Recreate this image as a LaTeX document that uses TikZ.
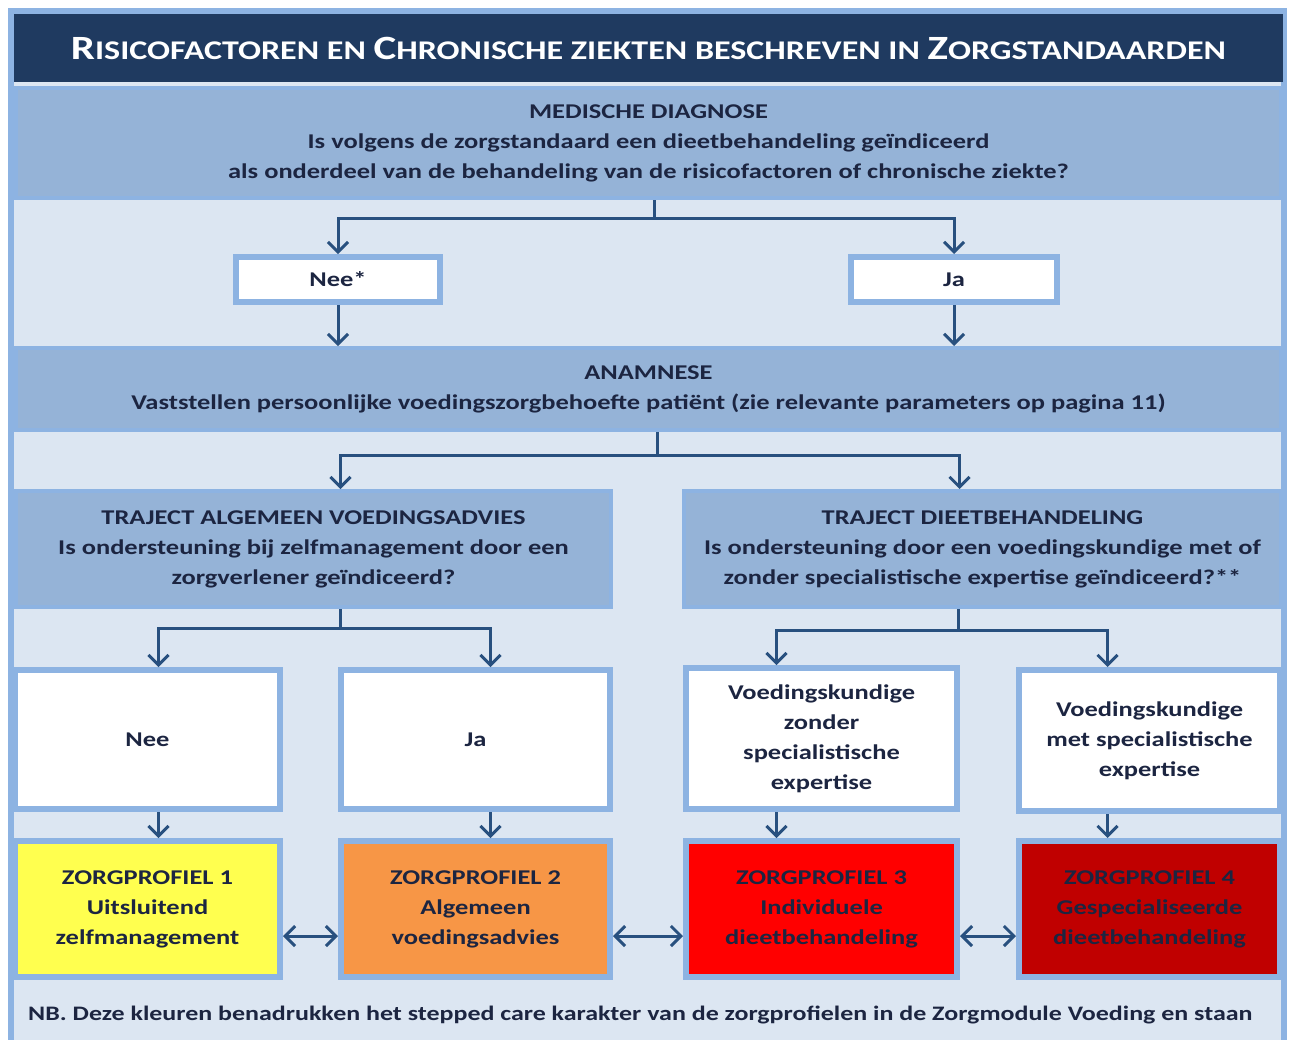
\documentclass[tikz,border=0pt]{standalone}
\usepackage{fontspec}
\setmainfont{Carlito}[FakeStretch=1.26]
\usetikzlibrary{arrows.meta}
\definecolor{navy}{HTML}{1F3A60}
\definecolor{bandblue}{HTML}{95B3D7}
\definecolor{lightbg}{HTML}{DCE6F2}
\definecolor{borderblue}{HTML}{8DB3E2}
\definecolor{arrowblue}{HTML}{28507F}
\definecolor{txt}{HTML}{1C2541}
\definecolor{pyellow}{HTML}{FFFF4F}
\definecolor{porange}{HTML}{F79646}
\definecolor{pred}{HTML}{FF0000}
\definecolor{pdarkred}{HTML}{C00000}
\newcommand\tbig[1]{{\fontsize{34}{40}\selectfont #1}}
\newcommand\bodyfont{\fontsize{21}{30}\selectfont\bfseries}
\begin{document}
\begin{tikzpicture}[x=1pt,y=-1pt,
  band/.style={fill=bandblue, draw=borderblue, line width=4pt, text=txt, align=center, font=\bodyfont, inner sep=0pt},
  wbox/.style={fill=white, draw=borderblue, line width=6pt, text=txt, align=center, font=\bodyfont, inner sep=0pt},
  pbox/.style={draw=borderblue, line width=6pt, text=txt, align=center, font=\bodyfont, inner sep=0pt},
  arr/.style={draw=arrowblue, line width=3pt, -{Straight Barb[length=10pt,width=20pt]}},
  darr/.style={draw=arrowblue, line width=3pt, {Straight Barb[length=10pt,width=20pt]}-{Straight Barb[length=10pt,width=20pt]}}
]
\clip (0,0) rectangle (1289,1039);
\fill[white] (0,0) rectangle (1289,1039);
\path[draw=borderblue, line width=6pt, fill=lightbg] (11,11) rectangle (1284,1070);

% title
\node[fill=navy, text=white, minimum width=1269pt, minimum height=68pt, inner sep=0pt, font=\fontsize{27}{32}\selectfont\bfseries] (title) at (648.5,48)
  {\tbig{R}ISICOFACTOREN EN \tbig{C}HRONISCHE ZIEKTEN BESCHREVEN IN \tbig{Z}ORGSTANDAARDEN};

% medische diagnose
\node[band, minimum width=1265pt, minimum height=110pt] (diag) at (648.5,143)
  {MEDISCHE DIAGNOSE\\Is volgens de zorgstandaard een dieetbehandeling geïndiceerd\\als onderdeel van de behandeling van de risicofactoren of chronische ziekte?};

\node[wbox, minimum width=204pt, minimum height=45pt] (nee0) at (338,279.5) {Nee*};
\node[wbox, minimum width=206pt, minimum height=45pt] (ja0) at (954,279.5) {Ja};

% anamnese
\node[band, minimum width=1265pt, minimum height=82pt] (anam) at (648.5,389)
  {ANAMNESE\\Vaststellen persoonlijke voedingszorgbehoefte patiënt (zie relevante parameters op pagina 11)};

% trajecten
\node[band, minimum width=595pt, minimum height=116pt] (tav) at (313.5,549)
  {TRAJECT ALGEMEEN VOEDINGSADVIES\\Is ondersteuning bij zelfmanagement door een\\zorgverlener geïndiceerd?};
\node[band, minimum width=597pt, minimum height=116pt] (tdb) at (982.5,549)
  {TRAJECT DIEETBEHANDELING\\Is ondersteuning door een voedingskundige met of\\zonder specialistische expertise geïndiceerd?**};

% level boxes
\node[wbox, minimum width=265pt, minimum height=139pt] (l1) at (147.5,739.5) {Nee};
\node[wbox, minimum width=269pt, minimum height=139pt] (l2) at (475.5,739.5) {Ja};
\node[wbox, minimum width=271pt, minimum height=141pt] (l3) at (821.5,738.5) {Voedingskundige\\zonder\\specialistische\\expertise};
\node[wbox, minimum width=261pt, minimum height=141pt] (l4) at (1149.5,740.5) {Voedingskundige\\met specialistische\\expertise};

% profiles
\node[pbox, fill=pyellow, minimum width=265pt, minimum height=136pt] (p1) at (147.5,909) {ZORGPROFIEL 1\\Uitsluitend\\zelfmanagement};
\node[pbox, fill=porange, minimum width=269pt, minimum height=136pt] (p2) at (475.5,909) {ZORGPROFIEL 2\\Algemeen\\voedingsadvies};
\node[pbox, fill=pred, minimum width=271pt, minimum height=136pt] (p3) at (821.5,909) {ZORGPROFIEL 3\\Individuele\\dieetbehandeling};
\node[pbox, fill=pdarkred, minimum width=261pt, minimum height=136pt] (p4) at (1149.5,909) {ZORGPROFIEL 4\\Gespecialiseerde\\dieetbehandeling};

% note
\node[anchor=west, text=txt, font=\fontsize{20.6}{26}\selectfont\bfseries, inner sep=0pt] (nb) at (28,1015)
  {NB. Deze kleuren benadrukken het stepped care karakter van de zorgprofielen in de Zorgmodule Voeding en staan};

% arrows
\draw[arr] ([xshift=6pt]diag.south) -- ++(0,18) -| (nee0.north);
\draw[arr] ([xshift=6pt]diag.south) -- ++(0,18) -| (ja0.north);
\draw[arr] (nee0.south) -- (nee0.south |- anam.north);
\draw[arr] (ja0.south) -- (ja0.south |- anam.north);

\draw[arr] ([xshift=9pt]anam.south) -- ++(0,23) -| ([xshift=27pt]tav.north);
\draw[arr] ([xshift=9pt]anam.south) -- ++(0,23) -| ([xshift=-23pt]tdb.north);

\draw[arr] ([xshift=27pt]tav.south) -- ++(0,19) -| ([xshift=11pt]l1.north);
\draw[arr] ([xshift=27pt]tav.south) -- ++(0,19) -| ([xshift=15pt]l2.north);
\draw[arr] ([xshift=-24pt]tdb.south) -- ++(0,21) -| ([xshift=-45pt]l3.north);
\draw[arr] ([xshift=-24pt]tdb.south) -- ++(0,21) -| ([xshift=-42pt]l4.north);

\draw[arr] ([xshift=11pt]l1.south) -- ([xshift=11pt]p1.north);
\draw[arr] ([xshift=15pt]l2.south) -- ([xshift=15pt]p2.north);
\draw[arr] ([xshift=-45pt]l3.south) -- ([xshift=-45pt]p3.north);
\draw[arr] ([xshift=-42pt]l4.south) -- ([xshift=-42pt]p4.north);

\draw[darr] ([yshift=-27pt]p1.east) -- ([yshift=-27pt]p2.west);
\draw[darr] ([yshift=-27pt]p2.east) -- ([yshift=-27pt]p3.west);
\draw[darr] ([yshift=-27pt]p3.east) -- ([yshift=-27pt]p4.west);
\end{tikzpicture}
\end{document}
